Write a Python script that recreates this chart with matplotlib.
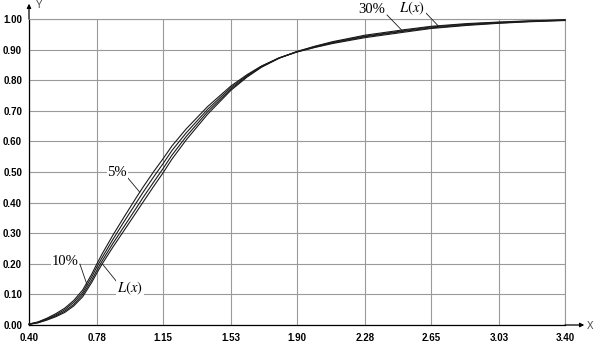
import numpy as np
import matplotlib
matplotlib.use("Agg")
import matplotlib.pyplot as plt

plt.rcParams['mathtext.fontset'] = 'stix'

# values
x = [0.40, 0.45, 0.50, 0.55, 0.60, 0.65, 0.70, 0.75, 0.78, 0.81, 0.87, 0.93,
     1.00, 1.04, 1.10, 1.15, 1.20, 1.28, 1.40, 1.53, 1.62, 1.70, 1.80, 1.90,
     2.00, 2.10, 2.28, 2.50, 2.65, 2.85, 3.03, 3.20, 3.40]

L_x = [0.002, 0.007, 0.016, 0.027, 0.041, 0.062, 0.092, 0.138, 0.170, 0.200, 0.255, 0.307,
       0.368, 0.403, 0.455, 0.497, 0.542, 0.605, 0.689, 0.767, 0.810, 0.842, 0.872, 0.894,
       0.911, 0.926, 0.947, 0.965, 0.976, 0.985, 0.990, 0.994, 0.997]

p5 = [0.003, 0.010, 0.022, 0.037, 0.055, 0.080, 0.114, 0.165, 0.200, 0.233, 0.294, 0.351,
      0.416, 0.452, 0.503, 0.543, 0.585, 0.641, 0.714, 0.781, 0.818, 0.846, 0.873, 0.892,
      0.907, 0.920, 0.939, 0.957, 0.969, 0.979, 0.986, 0.991, 0.995]

p10 = [0.003, 0.009, 0.020, 0.033, 0.050, 0.074, 0.106, 0.156, 0.190, 0.221, 0.280, 0.336,
       0.399, 0.435, 0.486, 0.527, 0.570, 0.628, 0.705, 0.776, 0.815, 0.845, 0.873, 0.893,
       0.908, 0.922, 0.942, 0.960, 0.971, 0.981, 0.987, 0.992, 0.996]

p30 = [0.002, 0.008, 0.018, 0.030, 0.045, 0.067, 0.099, 0.146, 0.179, 0.210, 0.267, 0.320,
       0.382, 0.418, 0.469, 0.511, 0.555, 0.616, 0.697, 0.771, 0.812, 0.843, 0.872, 0.893,
       0.910, 0.924, 0.944, 0.962, 0.974, 0.983, 0.989, 0.993, 0.997]

xticks = [0.40, 0.78, 1.15, 1.53, 1.90, 2.28, 2.65, 3.03, 3.40]
xtick_labels = ["0.40", "0.78", "1.15", "1.53", "1.90", "2.28", "2.65", "3.03", "3.40"]
yticks = [0.0, 0.1, 0.2, 0.3, 0.4, 0.5, 0.6, 0.7, 0.8, 0.9, 1.0]

fig = plt.figure(figsize=(5.97, 3.46), dpi=100)
ax = fig.add_axes([29 / 597, 21 / 346, 536 / 597, 306 / 346])

grid_col = '#9a9a9a'
ax.set_xlim(0.4, 3.4)
ax.set_ylim(0, 1)
ax.set_xticks(xticks)
ax.set_xticklabels(xtick_labels)
ax.set_yticks(yticks)
ax.set_yticklabels([f"{v:.2f}" for v in yticks])
ax.grid(True, color=grid_col, linewidth=0.8)
ax.tick_params(length=0, labelsize=7, pad=5)
ax.tick_params(axis='x', pad=6)
for lab in ax.get_xticklabels() + ax.get_yticklabels():
    lab.set_fontweight('bold')
    lab.set_family('Liberation Sans')

for s in ['top', 'right']:
    ax.spines[s].set_color(grid_col)
    ax.spines[s].set_linewidth(0.8)
for s in ['left', 'bottom']:
    ax.spines[s].set_color('black')
    ax.spines[s].set_linewidth(0.9)

# axis arrows
ax.annotate('', xy=(1.036, 0), xytext=(1.0, 0), xycoords='axes fraction',
            arrowprops=dict(arrowstyle='-|>', color='black', lw=0.9,
                            mutation_scale=6, shrinkA=0, shrinkB=0),
            annotation_clip=False)
ax.annotate('', xy=(0, 1.05), xytext=(0, 1.0), xycoords='axes fraction',
            arrowprops=dict(arrowstyle='-|>', color='black', lw=0.9,
                            mutation_scale=6, shrinkA=0, shrinkB=0),
            annotation_clip=False)
ax.text(1.041, -0.003, 'X', transform=ax.transAxes, fontsize=7, color='#444444',
        ha='left', va='center', family='Liberation Sans')
ax.text(0.012, 1.045, 'Y', transform=ax.transAxes, fontsize=7, color='#444444',
        ha='left', va='center', family='Liberation Sans')

for series in [L_x, p5, p10, p30]:
    ax.plot(x, series, color='#1a1a1a', linewidth=0.8, clip_on=False, zorder=3)

def label(txt, tx, ty, sx, sy, ex, series):
    ey = np.interp(ex, x, series)
    ax.plot([sx, ex], [sy, ey], color='#1a1a1a', linewidth=0.6, clip_on=False, zorder=4)
    ax.text(tx, ty, txt, fontsize=10.5, family='Liberation Serif', ha='center',
            va='center', zorder=5, clip_on=False,
            bbox=dict(facecolor='white', edgecolor='none', pad=0.5))

label('10%', 0.601, 0.206, 0.685, 0.199, 0.725, p10)
label('$L(x)$', 0.965, 0.121, 0.893, 0.140, 0.810, L_x)
label('5%', 0.893, 0.500, 0.954, 0.480, 1.020, p5)
label('30%', 2.320, 1.030, 2.404, 1.013, 2.490, p30)
label('$L(x)$', 2.544, 1.036, 2.616, 1.023, 2.690, L_x)

fig.savefig('out.png', dpi=100, facecolor='white')
